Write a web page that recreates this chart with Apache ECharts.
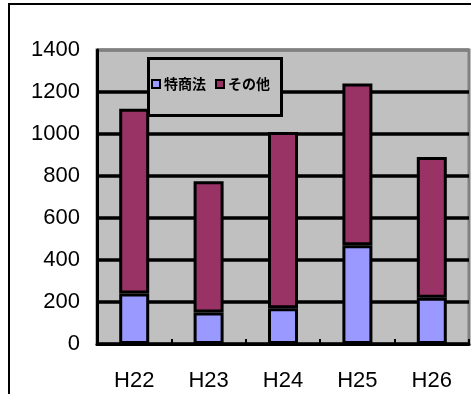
<!DOCTYPE html>
<html>
<head>
<meta charset="utf-8">
<script src="https://cdn.jsdelivr.net/npm/echarts@6/dist/echarts.min.js"></script>
<style>
  html, body { margin: 0; padding: 0; background: #fff; }
  #chart { width: 471px; height: 394px; }
</style>
</head>
<body>
<div id="chart"></div>
<script>
// Yearly counts, split into 特商法 cases and everything else
const years = ['H22', 'H23', 'H24', 'H25', 'H26'];
const tokushoho = [240, 150, 170, 470, 220];
const others = [880, 625, 840, 770, 670];
const yTicks = [0, 200, 400, 600, 800, 1000, 1200, 1400];

const chart = echarts.init(document.getElementById('chart'));

const latin = '"Liberation Sans", Arial, sans-serif';
const cjk = '"Noto Sans CJK JP", sans-serif';

chart.setOption({
  animation: false,
  backgroundColor: '#ffffff',
  grid: {
    left: 97, right: 2, top: 50, bottom: 50,
    show: true,
    backgroundColor: '#c0c0c0',
    borderColor: '#808080',
    borderWidth: 3
  },
  graphic: [
    {
      type: 'rect', z: -10, silent: true,
      shape: { x: 9, y: 4, width: 600, height: 600 },
      style: { fill: 'none', stroke: '#000', lineWidth: 2 }
    },
    {
      type: 'rect', z: 10, silent: true,
      shape: { x: 148.5, y: 58.5, width: 133, height: 57 },
      style: { fill: '#c0c0c0', stroke: '#000', lineWidth: 3 }
    }
  ],
  legend: {
    z: 20,
    left: 151, top: 77,
    padding: 0,
    itemGap: 9,
    itemWidth: 8, itemHeight: 8,
    icon: 'rect',
    itemStyle: { borderColor: '#000', borderWidth: 2 },
    textStyle: { fontFamily: cjk, fontSize: 14, fontWeight: 'bold', color: '#000', padding: [0, 0, 0, -1] },
    data: ['特商法', 'その他']
  },
  xAxis: {
    type: 'category',
    data: years,
    axisLine: { lineStyle: { color: '#000', width: 3 } },
    axisTick: { show: true, inside: true, length: 5, alignWithLabel: false, lineStyle: { color: '#000', width: 2 } },
    axisLabel: { color: '#000', fontFamily: latin, fontSize: 22, margin: 26 }
  },
  yAxis: {
    type: 'value',
    min: yTicks[0], max: yTicks[yTicks.length - 1], interval: 200,
    axisLine: { show: true, lineStyle: { color: '#000', width: 3 } },
    axisTick: { show: false },
    axisLabel: { color: '#000', fontFamily: latin, fontSize: 22, margin: 17, formatter: v => String(v) },
    splitLine: {
      show: true,
      lineStyle: { width: 3.5, color: ['#000', '#000', '#000', '#000', '#000', '#000', '#000', '#808080'] }
    }
  },
  series: [
    {
      name: '特商法', type: 'bar', stack: 'total', barWidth: 30,
      data: tokushoho,
      itemStyle: { color: '#9999ff', borderColor: '#000', borderWidth: 3 }
    },
    {
      name: 'その他', type: 'bar', stack: 'total', barWidth: 30,
      data: others,
      itemStyle: { color: '#993366', borderColor: '#000', borderWidth: 3 }
    }
  ]
});
</script>
</body>
</html>
